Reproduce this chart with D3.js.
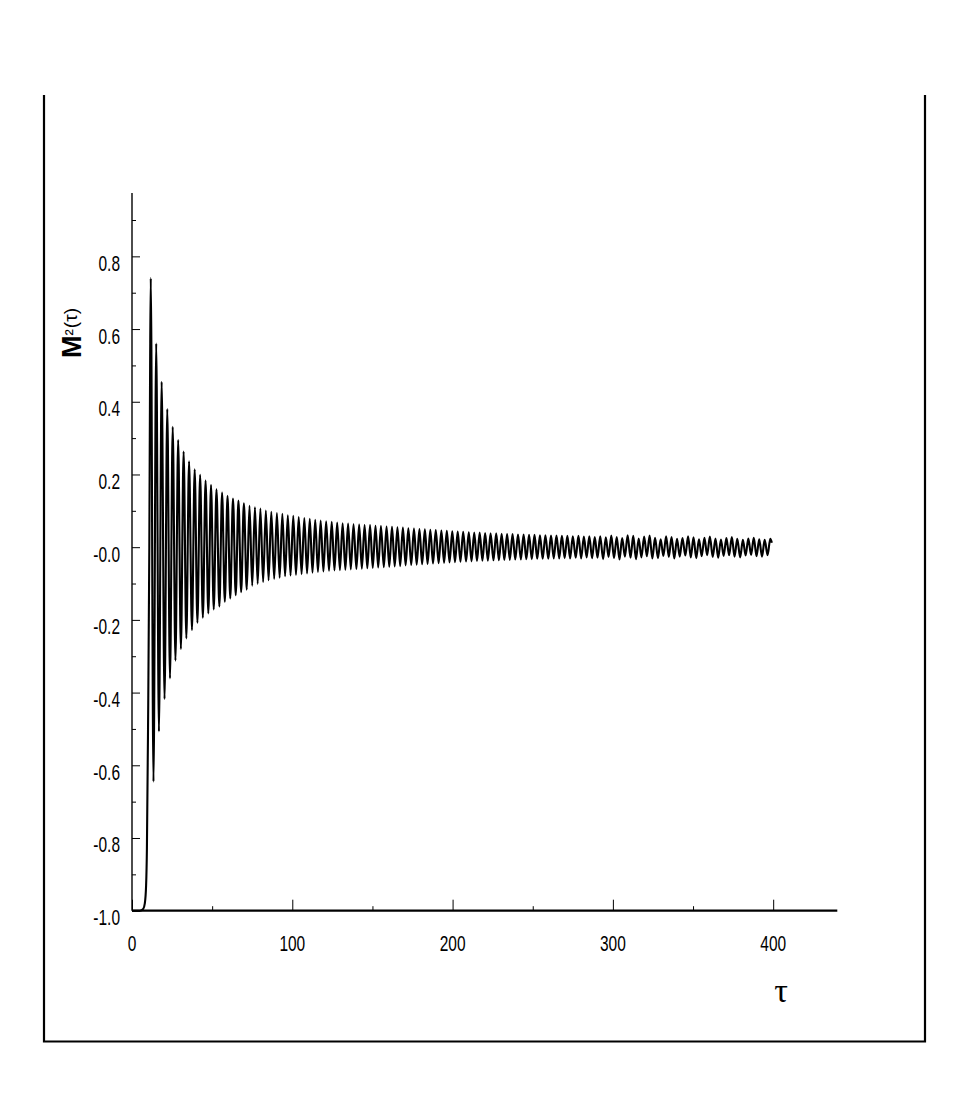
<!DOCTYPE html>
<html><head><meta charset="utf-8">
<script src="https://cdn.jsdelivr.net/npm/d3@7"></script>
<style>html,body{margin:0;padding:0;background:#fff;}</style>
</head><body>
<script>
// ---- data ----
const riseTau = [0, 5, 7, 8, 8.8, 9.3, 10.0, 10.8, 11.3];
const riseM   = [-1, -1, -0.995, -0.98, -0.93, -0.83, -0.5, 0.0, 0.5];

const extremaTau = [
11.7,13.4,15.1,16.8,18.5,20.3,22.0,23.7,25.4,27.1,28.8,30.5,32.2,33.9,35.6,37.4,39.1,40.8,42.5,44.2,
45.9,47.6,49.3,51.0,52.7,54.5,56.2,57.9,59.6,61.3,63.0,64.7,66.4,68.1,69.8,71.6,73.3,75.0,76.7,78.4,
80.1,81.8,83.5,85.2,86.9,88.7,90.4,92.1,93.8,95.5,97.2,98.9,100.6,102.3,104.0,105.8,107.5,109.2,110.9,112.6,
114.3,116.0,117.7,119.4,121.1,122.9,124.6,126.3,128.0,129.7,131.4,133.1,134.8,136.5,138.2,140.0,141.7,143.4,145.1,146.8,
148.5,150.2,151.9,153.6,155.3,157.1,158.8,160.5,162.2,163.9,165.6,167.3,169.0,170.7,172.4,174.2,175.9,177.6,179.3,181.0,
182.7,184.4,186.1,187.8,189.5,191.3,193.0,194.7,196.4,198.1,199.8,201.5,203.2,204.9,206.6,208.4,210.1,211.8,213.5,215.2,
216.9,218.6,220.3,222.0,223.7,225.5,227.2,228.9,230.6,232.3,234.0,235.7,237.4,239.1,240.8,242.6,244.3,246.0,247.7,249.4,
251.1,252.8,254.5,256.2,257.9,259.7,261.4,263.1,264.8,266.5,268.2,269.9,271.6,273.3,275.0,276.8,278.5,280.2,281.9,283.6,
285.3,287.0,288.7,290.4,292.1,293.9,295.6,297.3,299.0,300.7,302.4,304.1,305.8,307.5,309.2,311.0,312.7,314.4,316.1,317.8,
319.5,321.2,322.9,324.6,326.3,328.1,329.8,331.5,333.2,334.9,336.6,338.3,340.0,341.7,343.4,345.2,346.9,348.6,350.3,352.0,
353.7,355.4,357.1,358.8,360.5,362.3,364.0,365.7,367.4,369.1,370.8,372.5,374.2,375.9,377.6,379.4,381.1,382.8,384.5,386.2,
387.9,389.6,391.3,393.0,394.7,396.5,398.2,399.2];

const extremaM = [
0.740,-0.645,0.560,-0.507,0.455,-0.418,0.380,-0.361,0.331,-0.312,0.295,-0.280,0.263,-0.251,0.236,-0.228,0.214,-0.208,0.199,-0.194,
0.183,-0.182,0.171,-0.171,0.159,-0.163,0.150,-0.150,0.141,-0.141,0.134,-0.132,0.128,-0.124,0.121,-0.117,0.114,-0.106,0.110,-0.101,
0.106,-0.096,0.101,-0.091,0.097,-0.087,0.094,-0.084,0.092,-0.080,0.088,-0.078,0.086,-0.076,0.083,-0.074,0.080,-0.072,0.078,-0.070,
0.075,-0.068,0.073,-0.067,0.071,-0.065,0.070,-0.064,0.068,-0.063,0.066,-0.062,0.065,-0.061,0.063,-0.060,0.062,-0.059,0.061,-0.058,
0.061,-0.057,0.059,-0.056,0.058,-0.055,0.057,-0.054,0.056,-0.053,0.055,-0.052,0.054,-0.050,0.052,-0.049,0.051,-0.048,0.050,-0.047,
0.049,-0.046,0.048,-0.045,0.047,-0.044,0.046,-0.043,0.045,-0.042,0.044,-0.041,0.043,-0.040,0.042,-0.039,0.041,-0.039,0.040,-0.038,
0.040,-0.037,0.039,-0.037,0.038,-0.036,0.038,-0.036,0.037,-0.035,0.036,-0.035,0.036,-0.034,0.035,-0.034,0.035,-0.033,0.034,-0.033,
0.034,-0.032,0.033,-0.032,0.033,-0.032,0.032,-0.031,0.032,-0.031,0.031,-0.030,0.031,-0.031,0.030,-0.029,0.031,-0.031,0.029,-0.028,
0.030,-0.030,0.028,-0.029,0.030,-0.033,0.027,-0.027,0.032,-0.030,0.028,-0.034,0.025,-0.026,0.033,-0.029,0.031,-0.033,0.024,-0.028,
0.029,-0.025,0.032,-0.031,0.026,-0.030,0.022,-0.024,0.030,-0.027,0.028,-0.031,0.023,-0.026,0.025,-0.023,0.030,-0.028,0.027,-0.030,
0.022,-0.025,0.026,-0.022,0.029,-0.027,0.024,-0.029,0.021,-0.024,0.025,-0.022,0.028,-0.026,0.023,-0.028,0.020,-0.023,0.024,-0.021,
0.026,-0.025,0.022,-0.026,0.020,-0.022,0.023,0.012];

const xTickValues = [0, 100, 200, 300, 400];
const xTickLabels = ["0", "100", "200", "300", "400"];
const xMinorTicks = [50, 150, 250, 350];
const yTickValues = [-1.0, -0.8, -0.6, -0.4, -0.2, 0.0, 0.2, 0.4, 0.6, 0.8];
const yTickLabels = ["-1.0", "-0.8", "-0.6", "-0.4", "-0.2", "-0.0", "0.2", "0.4", "0.6", "0.8"];
const yMinorTicks = [-0.9, -0.7, -0.5, -0.3, -0.1, 0.1, 0.3, 0.5, 0.7, 0.9];

// ---- drawing ----
const W = 969, H = 1107;
const svg = d3.select("body").append("svg").attr("width", W).attr("height", H);

const x = d3.scaleLinear().domain([0, 440]).range([132, 837.3]);
const y = d3.scaleLinear().domain([-1, 0.974]).range([910.7, 193.1]);

// outer frame (left, bottom, right)
svg.append("path")
  .attr("d", "M44,95 L44,1041.5 L925,1041.5 L925,95")
  .attr("fill", "none").attr("stroke", "#000").attr("stroke-width", 2.2);

const data = [];
riseTau.forEach((t, i) => data.push([t, riseM[i]]));
extremaTau.forEach((t, i) => data.push([t, extremaM[i]]));

const line = d3.line().x(d => x(d[0])).y(d => y(d[1])).curve(d3.curveMonotoneX);
svg.append("path").datum(data)
  .attr("d", line).attr("fill", "none").attr("stroke", "#000")
  .attr("stroke-width", 2.1).attr("stroke-linejoin", "round");

// y axis
const yAxis = d3.axisRight(y).tickValues(yTickValues).tickSize(8).tickFormat("");
const gy = svg.append("g").attr("transform", `translate(${x(0)},0)`).call(yAxis);
gy.select(".domain").remove();
gy.selectAll(".tick line").attr("stroke", "#000").attr("stroke-width", 1);
const yAxisMinor = d3.axisRight(y).tickValues(yMinorTicks).tickSize(4).tickFormat("");
const gym = svg.append("g").attr("transform", `translate(${x(0)},0)`).call(yAxisMinor);
gym.select(".domain").remove();
gym.selectAll(".tick line").attr("stroke", "#000").attr("stroke-width", 1);
svg.append("line").attr("x1", x(0)).attr("x2", x(0)).attr("y1", y(0.974)).attr("y2", y(-1))
  .attr("stroke", "#000").attr("stroke-width", 1.4);

// x axis
const xAxis = d3.axisTop(x).tickValues(xTickValues).tickSize(11).tickFormat("");
const gx = svg.append("g").attr("transform", `translate(0,${y(-1)})`).call(xAxis);
gx.select(".domain").remove();
gx.selectAll(".tick line").attr("stroke", "#000").attr("stroke-width", 1);
const xAxisMinor = d3.axisTop(x).tickValues(xMinorTicks).tickSize(4.5).tickFormat("");
const gxm = svg.append("g").attr("transform", `translate(0,${y(-1)})`).call(xAxisMinor);
gxm.select(".domain").remove();
gxm.selectAll(".tick line").attr("stroke", "#000").attr("stroke-width", 1);
svg.append("line").attr("x1", x(0)).attr("x2", x(440)).attr("y1", y(-1)).attr("y2", y(-1))
  .attr("stroke", "#000").attr("stroke-width", 2.2);

// tick labels (condensed sans)
const FS = 21.5, SX = 0.72;
yTickValues.forEach((v, i) => {
  svg.append("text")
    .attr("transform", `translate(120,${y(v) + 14.5}) scale(${SX},1)`)
    .attr("text-anchor", "end")
    .attr("font-family", "Liberation Sans, Arial, sans-serif")
    .attr("font-size", FS).attr("fill", "#000")
    .text(yTickLabels[i]);
});
xTickValues.forEach((v, i) => {
  svg.append("text")
    .attr("transform", `translate(${x(v)},950.5) scale(${SX},1)`)
    .attr("text-anchor", "middle")
    .attr("font-family", "Liberation Sans, Arial, sans-serif")
    .attr("font-size", FS).attr("fill", "#000")
    .text(xTickLabels[i]);
});

// y label  M²(τ)
const yl = svg.append("text")
  .attr("transform", "translate(81,358) rotate(-90)")
  .attr("font-family", "Liberation Sans, Arial, sans-serif")
  .attr("fill", "#000");
yl.append("tspan").attr("font-weight", "bold").attr("font-size", 27).text("M");
yl.append("tspan").attr("font-size", 19).attr("dy", -3).text("²");
yl.append("tspan").attr("font-size", 19).attr("dx", 1).attr("dy", -1).text("(τ)");

// x label τ
svg.append("text")
  .attr("x", 781).attr("y", 1002)
  .attr("text-anchor", "middle")
  .attr("font-family", "Liberation Serif, Times New Roman, serif")
  .attr("font-size", 34).attr("fill", "#000")
  .text("τ");
</script>
</body></html>
